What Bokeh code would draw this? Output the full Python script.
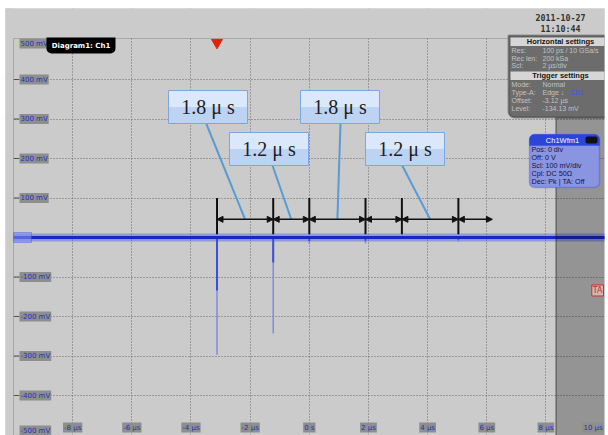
from bokeh.plotting import figure
from bokeh.models import (Range1d, Grid, FixedTicker, Label, BoxAnnotation,
                          Arrow, NormalHead, ColumnDataSource)
from bokeh.core.properties import value
from bokeh.embed import file_html
from bokeh.resources import INLINE

# ---------------- data ----------------
time_ticks = [-8, -6, -4, -2, 0, 2, 4, 6, 8, 10]                      # µs
time_tick_labels = ["-8 µs", "-6 µs", "-4 µs", "-2 µs", "0 s", "2 µs",
                    "4 µs", "6 µs", "8 µs", "10 µs"]
volt_ticks = [500, 400, 300, 200, 100, 0, -100, -200, -300, -400, -500]  # mV
volt_tick_labels = ["500 mV", "400 mV", "300 mV", "200 mV", "100 mV", "",
                    "-100 mV", "-200 mV", "-300 mV", "-400 mV", "-500 mV"]

trace_t = [-10.0, 10.0]          # baseline of Ch1 (µs)
trace_v = [0.0, 0.0]             # mV

glitch_t = [-3.12, -1.22, 0.0, 1.90, 5.04]        # µs
glitch_peak = [-297, -243, -16, -15, -11]         # mV (faint tail)
glitch_core = [-134, -63, -9, -8, -6]             # mV (bright part)

marker_t = [-3.12, -1.22, 0.0, 1.90, 3.13, 5.04]  # cursor lines (µs)
marker_low, marker_high = 8, 100                  # mV
arrow_end_t = 6.19
arrow_v = 46

callout_text = ["1.8 μ s", "1.2 μ s", "1.8 μ s", "1.2 μ s"]
callout_segment = [0, 1, 2, 4]

record_end = 8.34          # µs
trigger_offset = -3.12     # µs
trigger_level = -134.13    # mV

horiz_keys = ["Res:", "Rec len:", "Scl:"]
horiz_vals = ["100 ps / 10 GSa/s", "200 kSa", "2 µs/div"]
trig_keys = ["Mode:", "Type-A:", "Offset:", "Level:"]
trig_vals = ["Normal", "Edge ↓", "-3.12 µs", "-134.13 mV"]
ch_rows = ["Pos: 0 div", "Off: 0 V", "Scl: 100 mV/div", "Cpl: DC 50Ω", "Dec: Pk | TA: Off"]

# ---------------- layout helpers (page pixel -> data) ----------------
PX_X0, PX_PER_US = 308.8, 29.58
PX_Y0, PX_PER_MV = 237.0, 0.395


def tx(px):
    return (px - PX_X0) / PX_PER_US


def vy(py):
    return (PX_Y0 - py) / PX_PER_MV


BG = "#cbcbcb"
p = figure(width=608, height=435, title=None, x_axis_type=None, y_axis_type=None,
           x_range=Range1d(tx(5), tx(604)), y_range=Range1d(vy(435), vy(8)),
           toolbar_location=None, output_backend="svg",
           min_border_left=5, min_border_right=4, min_border_top=8, min_border_bottom=0)
p.background_fill_color = BG
p.border_fill_color = "#ffffff"
p.outline_line_color = None

# grid
grid_t = [t for t in time_ticks if -9 < t < 9]
grid_v = [v for v in volt_ticks if -450 < v < 450]
p.add_layout(Grid(dimension=0, ticker=FixedTicker(ticks=grid_t), grid_line_color="#686868",
                  grid_line_dash="1 2", grid_line_width=1))
p.add_layout(Grid(dimension=1, ticker=FixedTicker(ticks=grid_v), grid_line_color="#686868",
                  grid_line_dash="1 2", grid_line_width=1))

# left tick stubs
p.segment(x0=[tx(13)] * len(grid_v), y0=grid_v, x1=[tx(19)] * len(grid_v), y1=grid_v,
          line_color="#505050", line_width=1)

# ---------------- waveform ----------------
p.line(trace_t, trace_v, line_color="#4c60e0", line_width=8, line_alpha=0.45)
p.segment(x0=glitch_t, y0=[0] * len(glitch_t), x1=glitch_t, y1=glitch_peak,
          line_color="#7583e6", line_width=1.5, line_alpha=0.9)
p.segment(x0=glitch_t, y0=[0] * len(glitch_t), x1=glitch_t, y1=glitch_core,
          line_color="#3b4fd8", line_width=2)
p.line(trace_t, trace_v, line_color="#1428c4", line_width=3)

# cover header band and left strip (grid must stop at the plot border)
p.add_layout(BoxAnnotation(bottom=vy(38), top=vy(0), left=tx(0), right=tx(640),
                           fill_color=BG, fill_alpha=1, line_color=None))
p.add_layout(BoxAnnotation(left=tx(0), right=tx(13), bottom=vy(460), top=vy(0),
                           fill_color=BG, fill_alpha=1, line_color=None))
# plot border
p.add_layout(BoxAnnotation(left=tx(13), top=vy(38), right=tx(640), bottom=vy(460),
                           fill_color=None, line_color="#5a5a5a", line_width=1))

# shaded region past the record end, with its boundary line
p.add_layout(BoxAnnotation(left=record_end, right=tx(640), top=vy(117), bottom=vy(460),
                           fill_color="#000000", fill_alpha=0.27,
                           line_color="#111111", line_width=2))

# ground marker
p.add_layout(BoxAnnotation(left=tx(13), right=tx(31), top=vy(232), bottom=vy(242),
                           fill_color="#8090e8", fill_alpha=0.6, line_color="#2236d0", line_width=1))

# ---------------- cursor annotations ----------------
p.segment(x0=marker_t, y0=[marker_low] * len(marker_t), x1=marker_t,
          y1=[marker_high] * len(marker_t), line_color="#111111", line_width=2)
ends = marker_t[1:] + [arrow_end_t]
asrc = ColumnDataSource(dict(x0=marker_t, x1=ends, y=[arrow_v] * len(marker_t)))
p.add_layout(Arrow(x_start="x0", y_start="y", x_end="x1", y_end="y", source=asrc,
                   line_color="#111111", line_width=1.5,
                   start=NormalHead(size=6, fill_color="#111111", line_color="#111111", line_width=1),
                   end=NormalHead(size=6, fill_color="#111111", line_color="#111111", line_width=1)))

# callouts (box centres / leader starts are layout positions in page pixels)
box_cx = [207.5, 268.5, 339.5, 404.5]
box_cy = [106.5, 148.5, 106.5, 148.5]
lead_px = [205.7, 272.0, 340.0, 401.7]
lead_py = [123, 165, 123, 165]
mids = [(marker_t[i] + ends[i]) / 2 for i in callout_segment]
p.segment(x0=[tx(x) for x in lead_px], y0=[vy(y) for y in lead_py], x1=mids,
          y1=[arrow_v] * len(mids), line_color="#5b9bd5", line_width=2)
bx = [tx(x) for x in box_cx]
by = [vy(y) for y in box_cy]
p.rect(x=bx, y=by, width=79, height=33, width_units="screen", height_units="screen",
       fill_color="#bcd3f4", line_color=None)
p.rect(x=bx, y=[vy(y - 8) for y in box_cy], width=78, height=16, width_units="screen",
       height_units="screen", fill_color="#dbe8fb", line_color=None)
p.rect(x=bx, y=by, width=79, height=33, width_units="screen", height_units="screen",
       fill_color=None, line_color="#7ea6dc", line_width=1)
p.text(x=bx, y=by, text=callout_text, text_font=value("Liberation Serif"),
       text_font_size="20px", text_align="center", text_baseline="middle", text_color="#1e1e1e")

# trigger markers
p.scatter(x=[trigger_offset], y=[vy(42)], marker="inverted_triangle", size=11,
          fill_color="#e3200c", line_color="#e3200c")
p.add_layout(Label(x=tx(604), y=trigger_level, x_offset=-1, text="TA", text_align="right",
                   text_baseline="middle", text_font="DejaVu Sans", text_font_size="8px",
                   text_color="#cc2a2a", background_fill_color="#d2b4b4",
                   border_line_color="#cc3030", padding=1))

# ---------------- axis labels ----------------
for v, lab in zip(volt_ticks, volt_tick_labels):
    if not lab:
        continue
    yy = min(max(v, vy(430)), vy(43))
    p.add_layout(Label(x=tx(13), y=yy, x_offset=6, text=lab, text_align="left",
                       text_baseline="middle", text_font="DejaVu Sans", text_font_size="7px",
                       text_color="#2233bb", background_fill_color="#8e8e8e", padding=1))
for t, lab in zip(time_ticks, time_tick_labels):
    p.add_layout(Label(x=t, y=vy(427), text=lab, text_align="center",
                       text_baseline="middle", text_font="DejaVu Sans", text_font_size="7px",
                       text_color="#2233bb", background_fill_color="#8e8e8e", padding=1,
                       x_offset=(-12 if t >= 10 else 0)))

# ---------------- diagram tab ----------------
p.add_layout(BoxAnnotation(left=tx(46), right=tx(115), top=vy(37), bottom=vy(53),
                           fill_color="#000000", fill_alpha=1, line_color=None,
                           border_radius=(0, 0, 5, 5)))
p.add_layout(Label(x=tx(80.5), y=vy(45), text="Diagram1: Ch1", text_align="center",
                   text_baseline="middle", text_font="DejaVu Sans", text_font_style="bold",
                   text_font_size="7px", text_color="#ffffff"))

# ---------------- date ----------------
p.add_layout(Label(x=tx(560), y=vy(17), text="2011-10-27", text_align="center",
                   text_baseline="middle", text_font="DejaVu Sans Mono", text_font_style="bold",
                   text_font_size="8.3px", text_color="#333333"))
p.add_layout(Label(x=tx(560), y=vy(28), text="11:10:44", text_align="center",
                   text_baseline="middle", text_font="DejaVu Sans Mono", text_font_style="bold",
                   text_font_size="8.3px", text_color="#333333"))

# ---------------- settings panel ----------------
p.add_layout(BoxAnnotation(left=tx(508), right=tx(640), top=vy(35), bottom=vy(117),
                           fill_color="#6c6c6c", fill_alpha=1, line_color="#111111", line_width=2,
                           border_radius=(0, 0, 0, 6)))
for top, bot, title in [(37, 45.5, "Horizontal settings"), (71, 79.5, "Trigger settings")]:
    p.add_layout(BoxAnnotation(left=tx(510), right=tx(640), top=vy(top), bottom=vy(bot),
                               fill_color="#d6d6d6", fill_alpha=1, line_color=None))
    p.add_layout(Label(x=tx(560), y=vy((top + bot) / 2), text=title, text_align="center",
                       text_baseline="middle", text_font="Liberation Sans", text_font_style="bold",
                       text_font_size="7.5px", text_color="#151515"))
for i, (k, v) in enumerate(zip(horiz_keys, horiz_vals)):
    yy = vy(50 + i * 7.6)
    p.add_layout(Label(x=tx(511), y=yy, text=k, text_baseline="middle", text_font="Liberation Sans",
                       text_font_size="7px", text_color="#c2c2c2"))
    p.add_layout(Label(x=tx(542), y=yy, text=v, text_baseline="middle", text_font="Liberation Sans",
                       text_font_size="7px", text_color="#c2c2c2"))
for i, (k, v) in enumerate(zip(trig_keys, trig_vals)):
    yy = vy(83.5 + i * 8.1)
    p.add_layout(Label(x=tx(511), y=yy, text=k, text_baseline="middle", text_font="Liberation Sans",
                       text_font_size="7px", text_color="#c2c2c2"))
    p.add_layout(Label(x=tx(542), y=yy, text=v, text_baseline="middle", text_font="Liberation Sans",
                       text_font_size="7px", text_color="#c2c2c2"))
p.add_layout(Label(x=tx(570), y=vy(83.5 + 8.1), text="Ch1", text_baseline="middle",
                   text_font="Liberation Sans", text_font_size="7px", text_color="#3a52ff"))

# ---------------- channel box ----------------
p.add_layout(BoxAnnotation(left=tx(529), right=tx(599), top=vy(134), bottom=vy(187),
                           fill_color="#8a95e2", fill_alpha=1, line_color="#2040d8", line_width=1.5,
                           border_radius=5))
p.add_layout(BoxAnnotation(left=tx(529), right=tx(599), top=vy(134), bottom=vy(145),
                           fill_color="#2b45d8", fill_alpha=1, line_color="#2040d8", line_width=1,
                           border_radius=(5, 5, 0, 0)))
p.add_layout(BoxAnnotation(left=tx(585), right=tx(597), top=vy(136), bottom=vy(143),
                           fill_color="#111111", fill_alpha=1, line_color=None, border_radius=2))
p.add_layout(Label(x=tx(562), y=vy(139.5), text="Ch1Wfm1", text_align="center",
                   text_baseline="middle", text_font="Liberation Sans", text_font_size="7.5px",
                   text_color="#ffffff"))
for i, row in enumerate(ch_rows):
    p.add_layout(Label(x=tx(531), y=vy(149 + i * 8.1), text=row, text_baseline="middle",
                       text_font="Liberation Sans", text_font_size="7.2px", text_color="#14143c"))

open("out.html", "w").write(file_html(p, INLINE))
